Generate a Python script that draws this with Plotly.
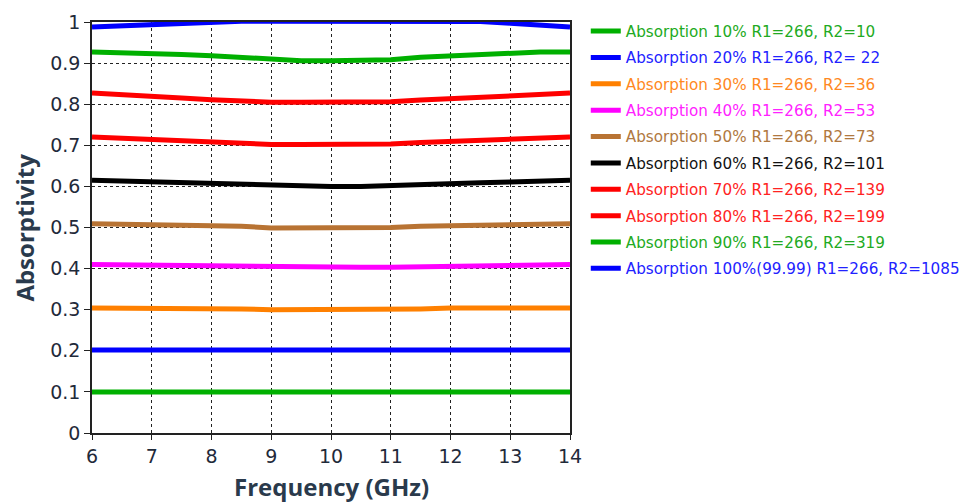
import plotly.graph_objects as go

freq = [6, 6.5, 7, 7.5, 8, 8.5, 9, 9.5, 10, 10.5, 11, 11.5, 12, 12.5, 13, 13.5, 14]

a10 = [0.100] * 17
a20 = [0.202] * 17
a30 = [0.304, 0.304, 0.304, 0.304, 0.304, 0.302, 0.300, 0.300, 0.300, 0.300, 0.300, 0.302, 0.304, 0.304, 0.304, 0.304, 0.304]
a40 = [0.410, 0.409, 0.407, 0.407, 0.406, 0.404, 0.403, 0.403, 0.403, 0.403, 0.403, 0.404, 0.406, 0.407, 0.407, 0.409, 0.410]
a50 = [0.509, 0.508, 0.507, 0.506, 0.504, 0.503, 0.499, 0.499, 0.499, 0.499, 0.500, 0.503, 0.504, 0.506, 0.507, 0.508, 0.509]
a60 = [0.615, 0.613, 0.611, 0.607, 0.605, 0.603, 0.601, 0.600, 0.600, 0.600, 0.603, 0.605, 0.607, 0.609, 0.611, 0.614, 0.615]
a70 = [0.720, 0.717, 0.714, 0.710, 0.707, 0.705, 0.702, 0.702, 0.702, 0.702, 0.703, 0.707, 0.710, 0.713, 0.716, 0.718, 0.720]
a80 = [0.827, 0.824, 0.819, 0.815, 0.811, 0.807, 0.805, 0.805, 0.805, 0.805, 0.806, 0.810, 0.814, 0.816, 0.820, 0.824, 0.827]
a90 = [0.927, 0.926, 0.925, 0.921, 0.918, 0.914, 0.907, 0.906, 0.906, 0.906, 0.908, 0.914, 0.918, 0.922, 0.925, 0.927, 0.927]
a100 = [0.988, 0.991, 0.995, 0.997, 1.001, 1.002, 1.002, 1.002, 1.002, 1.002, 1.002, 1.002, 1.002, 1.001, 0.997, 0.992, 0.988]

names = [
    "Absorption 10% R1=266, R2=10",
    "Absorption 20% R1=266, R2= 22",
    "Absorption 30% R1=266, R2=36",
    "Absorption 40% R1=266, R2=53",
    "Absorption 50% R1=266, R2=73",
    "Absorption 60% R1=266, R2=101",
    "Absorption 70% R1=266, R2=139",
    "Absorption 80% R1=266, R2=199",
    "Absorption 90% R1=266, R2=319",
    "Absorption 100%(99.99) R1=266, R2=1085",
]
series = [a10, a20, a30, a40, a50, a60, a70, a80, a90, a100]
colors = ["#00b000", "#0000ff", "#ff8000", "#ff00ff", "#b87333",
          "#000000", "#ff0000", "#ff0000", "#00b000", "#0000ff"]
text_colors = ["#22aa22", "#2222ff", "#ff8822", "#ff22ff", "#b07840",
               "#111111", "#ff2222", "#ff2222", "#22aa22", "#2222ff"]

y_ticks = [0, 0.1, 0.2, 0.3, 0.4, 0.5, 0.6, 0.7, 0.8, 0.9, 1]
y_labels = ["0", "0.1", "0.2", "0.3", "0.4", "0.5", "0.6", "0.7", "0.8", "0.9", "1"]
x_ticks = [6, 7, 8, 9, 10, 11, 12, 13, 14]
x_title = "Frequency (GHz)"
y_title = "Absorptivity"

fig = go.Figure()
for i, (nm, ys, c, tc) in enumerate(zip(names, series, colors, text_colors)):
    fig.add_trace(go.Scatter(
        x=freq, y=ys, mode="lines",
        name="<span style='color:%s'>%s</span>" % (tc, nm),
        line=dict(color=c, width=5),
        legendgroup="g%d" % i,
    ))

tick_font = dict(family="DejaVu Sans, sans-serif", size=19, color="#1f2a3a")
title_font = dict(family="Open Sans, sans-serif", size=24, color="#2a3a4c", weight="bold")

fig.update_layout(
    width=971, height=504,
    margin=dict(l=84, r=409, t=7, b=79),
    plot_bgcolor="white", paper_bgcolor="white",
    showlegend=True,
    legend=dict(
        x=1.033, xanchor="left", y=1.0177, yanchor="top",
        font=dict(family="DejaVu Sans, sans-serif", size=15.2),
        tracegroupgap=3.6, bgcolor="rgba(0,0,0,0)",
        traceorder="grouped", maxheight=0.95,
    ),
    xaxis=dict(
        range=[6, 14], tickvals=x_ticks, tickfont=tick_font,
        showline=True, linecolor="#222", linewidth=1.5, mirror=True,
        ticks="outside", ticklen=5, tickcolor="#222",
        showgrid=True, gridcolor="#222", gridwidth=1, griddash="3px,3px",
        zeroline=False, automargin=False,
    ),
    yaxis=dict(
        range=[0, 1], tickvals=y_ticks, ticktext=y_labels, tickfont=tick_font,
        showline=True, linecolor="#222", linewidth=1.5, mirror=True,
        ticks="outside", ticklen=6, tickcolor="#222",
        showgrid=True, gridcolor="#222", gridwidth=1, griddash="3px,3px",
        zeroline=False, automargin=False,
    ),
    annotations=[
        dict(text=x_title, xref="paper", yref="paper", x=0.5, y=-0.131,
             xanchor="center", yanchor="middle", showarrow=False, font=title_font),
        dict(text=y_title, xref="paper", yref="paper", x=-0.142, y=0.5,
             xanchor="center", yanchor="middle", textangle=-90, showarrow=False,
             font=title_font),
    ],
)

fig.write_html("out.html")
